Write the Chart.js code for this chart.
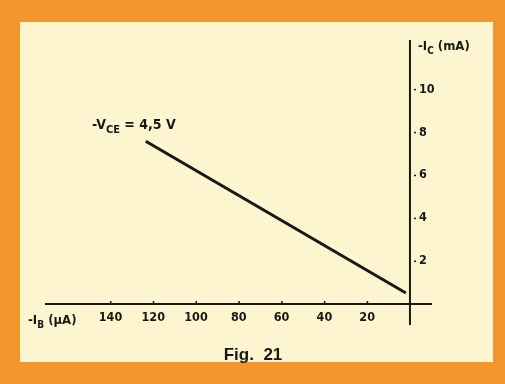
<!DOCTYPE html>
<html>
<head>
<meta charset="utf-8">
<script src="https://cdn.jsdelivr.net/npm/chart.js@4/dist/chart.umd.min.js"></script>
<style>
  html, body { margin: 0; padding: 0; background: #f4962e; }
  #wrap { width: 505px; height: 384px; position: relative; }
</style>
</head>
<body>
<div id="wrap"><canvas id="fig"></canvas></div>
<script>
// data
const IB_UA = [123.5, 1.9]        // -IB (uA)
const IC_MA = [7.58, 0.51]        // -IC (mA)
const X_TICKS = [140, 120, 100, 80, 60, 40, 20]
const Y_TICKS = [2, 4, 6, 8, 10]
const CURVE_LABEL = ["-V", "CE", " = 4,5 V"]
const X_TITLE = ["-I", "B", " (\u00b5A)"]
const Y_TITLE = ["-I", "C", " (mA)"]
const CAPTION = "Fig.  21"

const INK = '#1a1815'
const FONT = '"DejaVu Sans Condensed", "DejaVu Sans", sans-serif'

// main text + subscript + rest, starting at x (left), baseline y
function subText(ctx, parts, x, y, size) {
    ctx.textAlign = 'left'
    ctx.textBaseline = 'alphabetic'
    ctx.font = 'bold ' + size + 'px ' + FONT
    ctx.fillText(parts[0], x, y)
    x += ctx.measureText(parts[0]).width
    ctx.font = 'bold ' + Math.round(size * 0.8) + 'px ' + FONT
    ctx.fillText(parts[1], x, y + size * 0.3)
    x += ctx.measureText(parts[1]).width
    ctx.font = 'bold ' + size + 'px ' + FONT
    ctx.fillText(parts[2], x, y)
}

const paperPlugin = {
    id: 'paper',
    beforeDraw(chart) {
        const ctx = chart.ctx
        ctx.save()
        ctx.fillStyle = '#f4962e'
        ctx.fillRect(0, 0, chart.width, chart.height)
        ctx.fillStyle = '#fcf5d0'
        ctx.fillRect(20, 22, 473, 340)
        ctx.restore()
    }
}

const axesPlugin = {
    id: 'crossAxes',
    beforeDatasetsDraw(chart) {
        const ctx = chart.ctx
        const xs = chart.scales.x
        const ys = chart.scales.y
        const a = chart.chartArea
        const x0 = xs.getPixelForValue(0)
        const y0 = ys.getPixelForValue(0)
        ctx.save()
        ctx.strokeStyle = INK
        ctx.lineWidth = 2
        ctx.beginPath()
        ctx.moveTo(a.left, y0)
        ctx.lineTo(a.right, y0)
        ctx.moveTo(x0, a.top)
        ctx.lineTo(x0, a.bottom)
        ctx.stroke()

        ctx.fillStyle = INK
        // x ticks
        ctx.font = 'bold 12.5px ' + FONT
        ctx.textAlign = 'center'
        ctx.textBaseline = 'middle'
        X_TICKS.forEach(function(v) {
            var px = xs.getPixelForValue(v)
            ctx.fillRect(px - 0.5, y0 - 3, 1.5, 3)
            ctx.fillText(String(v), px, y0 + 14)
        })
        // y ticks
        ctx.textAlign = 'left'
        Y_TICKS.forEach(function(v) {
            var py = ys.getPixelForValue(v)
            ctx.fillRect(x0 + 4, py - 0.5, 2, 1.5)
            ctx.fillText(String(v), x0 + 9, py)
        })

        subText(ctx, Y_TITLE, x0 + 8, a.top + 10, 13)
        subText(ctx, X_TITLE, 28, y0 + 20, 13)
        subText(ctx, CURVE_LABEL, 92, 129, 14)

        ctx.font = 'bold 17px "Liberation Sans", Arial, sans-serif'
        ctx.textAlign = 'center'
        ctx.textBaseline = 'middle'
        ctx.fillText(CAPTION, 253, 355)
        ctx.restore()
    }
}

const points = IB_UA.map(function(v, i) { return { x: v, y: IC_MA[i] } })

new Chart(document.getElementById('fig'), {
    type: 'scatter',
    data: {
        datasets: [{
            data: points,
            showLine: true,
            borderColor: INK,
            borderWidth: 3,
            pointRadius: 0,
            borderCapStyle: 'butt'
        }]
    },
    options: {
        responsive: true,
        maintainAspectRatio: false,
        animation: false,
        layout: { padding: { left: 45, right: 73, top: 40, bottom: 59 } },
        plugins: { legend: { display: false }, tooltip: { enabled: false } },
        scales: {
            x: { type: 'linear', reverse: true, min: -10.3, max: 170.6, display: false },
            y: { type: 'linear', min: -0.98, max: 12.3, display: false }
        }
    },
    plugins: [paperPlugin, axesPlugin]
})
</script>
</body>
</html>
